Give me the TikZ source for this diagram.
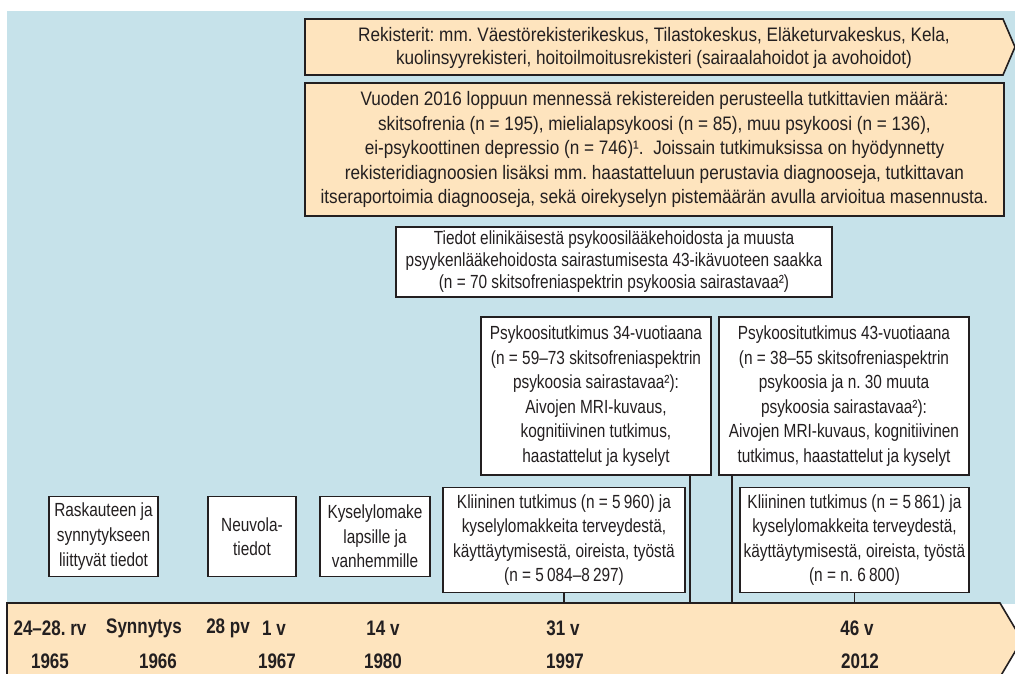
\documentclass[tikz,border=0pt]{standalone}
\usepackage{fontspec}
\setmainfont[FakeStretch=0.81]{Liberation Sans}
\newfontfamily\widefont[FakeStretch=0.88]{Liberation Sans}
\definecolor{bg}{HTML}{C6E2EA}
\definecolor{peach}{HTML}{FEE4BE}
\definecolor{ink}{HTML}{231F20}
\frenchspacing
\begin{document}
\frenchspacing
\begin{tikzpicture}[x=1pt,y=-1pt,
  box/.style={draw=ink, line width=1.3pt, fill=white, inner sep=0pt, align=center,
    font=\fontsize{19}{24.6}\selectfont, text=ink},
  band/.style={draw=ink, line width=1.6pt, fill=peach, line join=miter},
  bandtext/.style={inner sep=0pt, align=center, font=\widefont\fontsize{19.5}{24.5}\selectfont, text=ink},
  tlabel/.style={inner sep=0pt, font=\bfseries\fontsize{21}{22}\selectfont, text=ink},
  link/.style={draw=ink, line width=1.3pt}]
\useasboundingbox (0,0) rectangle (1015,673);
\fill[bg] (7,11) rectangle (1015,604);

% top banners
\draw[band] (305,19) -- (1003,19) -- (1015,47) -- (1003,75) -- (305,75) -- cycle;
\node[bandtext, font=\widefont\fontsize{19.5}{23}\selectfont] (reg) at (654,47.5) {Rekisterit: mm. Väestörekisterikeskus, Tilastokeskus, Eläketurvakeskus, Kela,\\kuolinsyyrekisteri, hoitoilmoitusrekisteri (sairaalahoidot ja avohoidot)};
\draw[band] (305,83) rectangle (1004,216);
\node[bandtext] (vuod) at (654.5,149.5) {Vuoden 2016 loppuun mennessä rekistereiden perusteella tutkittavien määrä:\\skitsofrenia (n = 195), mielialapsykoosi (n = 85), muu psykoosi (n = 136),\\ei-psykoottinen depressio (n = 746)¹.\ \ Joissain tutkimuksissa on hyödynnetty\\rekisteridiagnoosien lisäksi mm. haastatteluun perustavia diagnooseja, tutkittavan\\itseraportoimia diagnooseja, sekä oirekyselyn pistemäärän avulla arvioitua masennusta.};

% timeline
\draw[band] (7,603) -- (1000,603) -- (1022,640) -- (1000,677) -- (7,677) -- cycle;
\coordinate (v1) at (690,603);
\coordinate (v2) at (732,603);

% boxes
\node[box, minimum width=436pt, minimum height=70pt, font=\fontsize{19}{22}\selectfont] (tied) at (614,262)
 {Tiedot elinikäisestä psykoosilääkehoidosta ja muusta\\psyykenlääkehoidosta sairastumisesta 43-ikävuoteen saakka\\(n = 70 skitsofreniaspektrin psykoosia sairastavaa²)};
\node[box, minimum width=230pt, minimum height=158pt] (p34) at (596,396)
 {Psykoositutkimus 34-vuotiaana\\(n = 59–73 skitsofreniaspektrin\\psykoosia sairastavaa²):\\Aivojen MRI-kuvaus,\\kognitiivinen tutkimus,\\haastattelut ja kyselyt};
\node[box, minimum width=250pt, minimum height=158pt] (p43) at (844,396)
 {Psykoositutkimus 43-vuotiaana\\(n = 38–55 skitsofreniaspektrin\\psykoosia ja n. 30 muuta\\psykoosia sairastavaa²):\\Aivojen MRI-kuvaus, kognitiivinen\\tutkimus, haastattelut ja kyselyt};
\node[box, minimum width=242pt, minimum height=105pt] (k31) at (564,540)
 {Kliininen tutkimus (n = 5\,960) ja\\kyselylomakkeita terveydestä,\\käyttäytymisestä, oireista, työstä\\(n = 5\,084–8\,297)};
\node[box, minimum width=229pt, minimum height=105pt] (k46) at (854.5,540)
 {Kliininen tutkimus (n = 5\,861) ja\\kyselylomakkeita terveydestä,\\käyttäytymisestä, oireista, työstä\\(n = n. 6\,800)};
\node[box, minimum width=109pt, minimum height=80pt] (rask) at (103.5,536.5)
 {Raskauteen ja\\synnytykseen\\liittyvät tiedot};
\node[box, minimum width=88pt, minimum height=80pt] (neuv) at (252,536.5)
 {Neuvola-\\tiedot};
\node[box, minimum width=110pt, minimum height=80pt] (kys) at (375,536.5)
 {Kyselylomake\\lapsille ja\\vanhemmille};

% connectors
\draw[link] (p34.south -| v1) -- (v1);
\draw[link] (p43.south -| v2) -- (v2);
\draw[link] (k31.south) -- (k31.south |- v1);
\draw[link] (k46.south) -- (k46.south |- v1);

% timeline labels
\node[tlabel] (a1) at (50,628) {24–28. rv};
\node[tlabel] (a2) at (144,628) {Synnytys};
\node[tlabel] (a3) at (228,628) {28 pv};
\node[tlabel] (a4) at (274,628) {1 v};
\node[tlabel] (a5) at (383,628) {14 v};
\node[tlabel] (a6) at (563,628) {31 v};
\node[tlabel] (a7) at (857,628) {46 v};
\node[tlabel] (y1) at (50,661) {1965};
\node[tlabel] (y2) at (158,661) {1966};
\node[tlabel] (y3) at (277,661) {1967};
\node[tlabel] (y4) at (383,661) {1980};
\node[tlabel] (y5) at (565,661) {1997};
\node[tlabel] (y6) at (860,661) {2012};
\end{tikzpicture}
\end{document}
